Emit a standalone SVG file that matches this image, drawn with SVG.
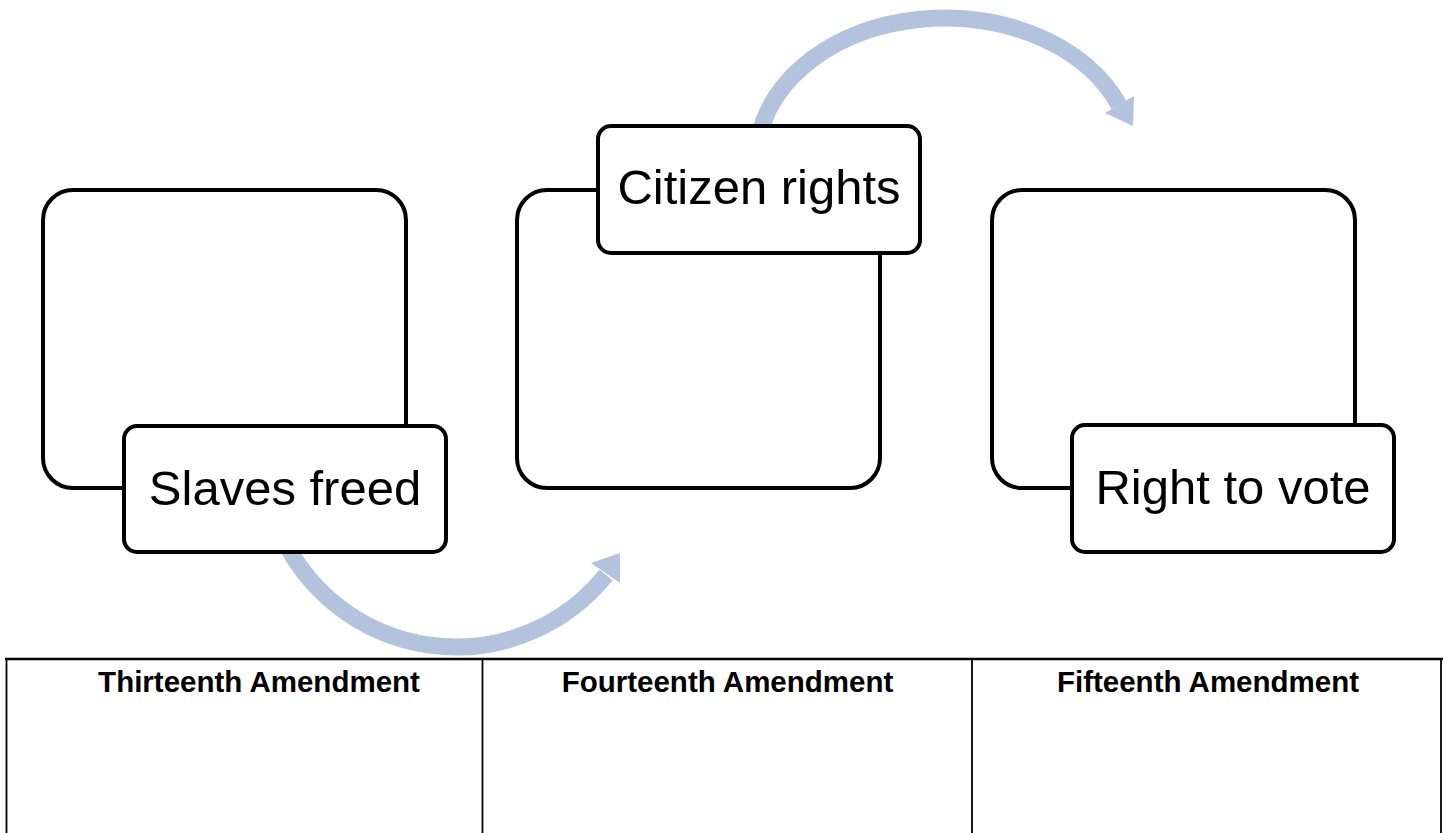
<svg xmlns="http://www.w3.org/2000/svg" width="1448" height="833" viewBox="0 0 1448 833">
  <style>
    .box { fill: #ffffff; stroke: #000000; stroke-width: 4; }
    .label { fill: #ffffff; stroke: #000000; stroke-width: 4; }
    .ltxt { font-family: "Liberation Sans", Arial, sans-serif; font-size: 49px; fill: #000000; text-anchor: middle; }
    .arc { fill: none; stroke: #B3C3DE; stroke-width: 17; }
    .head { fill: #B3C3DE; stroke: none; }
    .tline { stroke: #000000; fill: none; }
    .htxt { font-family: "Liberation Sans", Arial, sans-serif; font-size: 29.5px; font-weight: bold; fill: #000000; text-anchor: middle; }
  </style>
  <rect width="1448" height="833" fill="#ffffff"/>

  <g id="box-thirteenth">
    <rect class="box" x="43" y="190" width="363" height="298" rx="30"/>
  </g>
  <g id="box-fourteenth">
    <rect class="box" x="517" y="190" width="363" height="298" rx="30"/>
  </g>
  <g id="box-fifteenth">
    <rect class="box" x="992" y="190" width="363" height="298" rx="30"/>
  </g>

  <g id="connectors">
    <path class="arc" d="M 279.4 530 A 192 192 0 0 0 606 575"/>
    <polygon class="head" points="620,553 591,563 620,583"/>
    <path class="arc" d="M 758.6 140 A 188 140 0 0 1 1119 105"/>
    <polygon class="head" points="1105,113 1134,96 1133,126"/>
  </g>

  <g id="label-slaves-freed">
    <rect class="label" x="124" y="426" width="322" height="126" rx="13"/>
    <text class="ltxt" x="285" y="505">Slaves freed</text>
  </g>
  <g id="label-citizen-rights">
    <rect class="label" x="598" y="126" width="322" height="127" rx="13"/>
    <text class="ltxt" x="759" y="204">Citizen rights</text>
  </g>
  <g id="label-right-to-vote">
    <rect class="label" x="1072" y="425" width="322" height="127" rx="13"/>
    <text class="ltxt" x="1233" y="504">Right to vote</text>
  </g>

  <g id="table">
    <line class="tline" x1="5" y1="659" x2="1443" y2="659" stroke-width="2.5"/>
    <line class="tline" x1="6.5" y1="658" x2="6.5" y2="833" stroke-width="1.8"/>
    <line class="tline" x1="482.5" y1="658" x2="482.5" y2="833" stroke-width="1.8"/>
    <line class="tline" x1="972" y1="658" x2="972" y2="833" stroke-width="1.8"/>
    <line class="tline" x1="1441" y1="658" x2="1441" y2="833" stroke-width="1.8"/>
    <text class="htxt" x="259" y="692">Thirteenth Amendment</text>
    <text class="htxt" x="727.5" y="692">Fourteenth Amendment</text>
    <text class="htxt" x="1208" y="692">Fifteenth Amendment</text>
  </g>
</svg>
